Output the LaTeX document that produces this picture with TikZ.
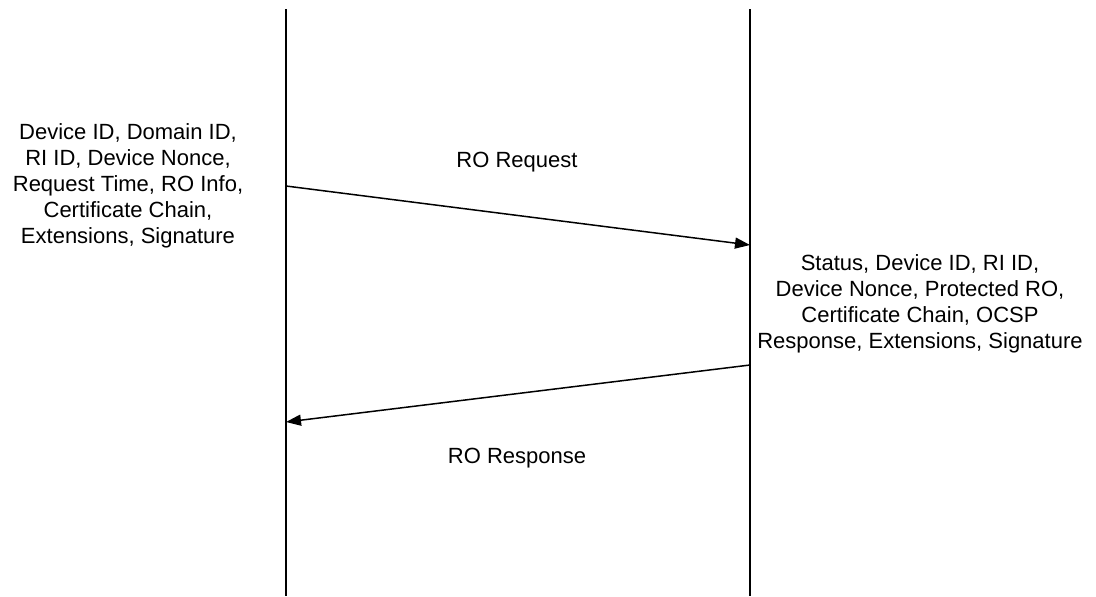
\documentclass[tikz,border=0pt]{standalone}
\usepackage{fontspec}
\setmainfont{Liberation Sans}
\usetikzlibrary{arrows.meta,positioning}
\begin{document}
\begin{tikzpicture}[x=0.5pt,y=-0.5pt,
    linea/.style={line width=1pt,draw=black},
    flecha/.style={-{Triangle[length=7.5pt,width=5.5pt]},line width=0.75pt,draw=black},
    texto/.style={align=center,font=\fontsize{11}{13}\selectfont,inner sep=0pt},
    etiqueta/.style={font=\fontsize{11}{13}\selectfont,inner sep=0pt}]
    \useasboundingbox (0,0) rectangle (1096,596);
    % lineas de vida
    \coordinate (dispArriba) at (286,9);
    \coordinate (dispAbajo) at (286,596);
    \coordinate (riArriba) at (750,9);
    \coordinate (riAbajo) at (750,596);
    \draw[linea] (dispArriba) -- (dispAbajo);
    \draw[linea] (riArriba) -- (riAbajo);
    % mensajes
    \coordinate (reqSale) at (286,186);
    \coordinate (reqLlega) at (750,245);
    \coordinate (respSale) at (750,365);
    \coordinate (respLlega) at (286,422);
    \draw[flecha] (reqSale) -- (reqLlega);
    \draw[flecha] (respSale) -- (respLlega);
    \node[etiqueta] (request) at (517,162) {RO Request};
    \node[etiqueta] (response) at (517,458) {RO Response};
    % contenidos
    \node[texto] (datosReq) at (128,186) {Device ID, Domain ID,\\RI ID, Device Nonce,\\Request Time, RO Info,\\Certificate Chain,\\Extensions, Signature};
    \node[texto] (datosResp) at (920,304) {Status, Device ID, RI ID,\\Device Nonce, Protected RO,\\Certificate Chain, OCSP\\Response, Extensions, Signature};
  \end{tikzpicture}
\end{document}
